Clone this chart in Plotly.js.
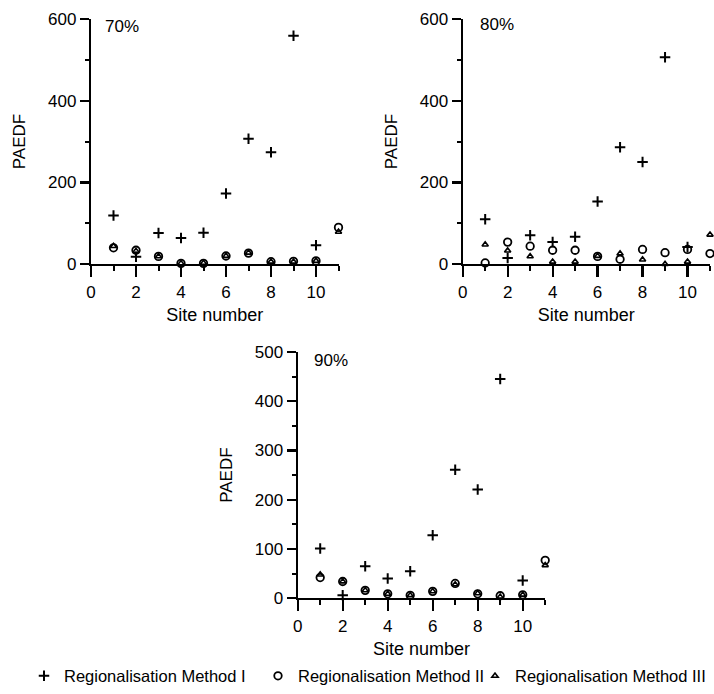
<!DOCTYPE html>
<html>
<head>
<meta charset="utf-8">
<script src="https://cdn.plot.ly/plotly-3.0.1.min.js"></script>
<style>
  html, body { margin: 0; padding: 0; background: #fff; }
  #chart { width: 714px; height: 694px; }
</style>
</head>
<body>
<div id="chart"></div>
<script>
// Site numbers
const sitesAll = [1, 2, 3, 4, 5, 6, 7, 8, 9, 10, 11];
const sitesM1 = [1, 2, 3, 4, 5, 6, 7, 8, 9, 10];

// Series names
const seriesNames = ["Regionalisation Method I", "Regionalisation Method II", "Regionalisation Method III"];

// 70% panel
const p70_m1 = [119, 18, 76, 64, 77, 173, 307, 274, 559, 46];
const p70_m2 = [40, 34, 19, 2, 2, 20, 27, 6, 7, 8, 90];
const p70_m3 = [44, 32, 19, 2, 3, 20, 28, 6, 6, 8, 79];

// 80% panel
const p80_m1 = [110, 15, 71, 54, 67, 153, 286, 250, 506, 42];
const p80_m2 = [3, 54, 44, 34, 34, 19, 12, 36, 28, 36, 26];
const p80_m3 = [48, 33, 19, 6, 6, 20, 26, 11, 0, 6, 72];

// 90% panel
const p90_m1 = [101, 6, 65, 40, 55, 128, 261, 221, 445, 36];
const p90_m2 = [42, 34, 16, 9, 6, 14, 30, 9, 5, 7, 77];
const p90_m3 = [48, 34, 16, 9, 6, 14, 28, 10, 3, 7, 67];

// Panel labels
const panelLabels = ["70%", "80%", "90%"];
const xTitle = "Site number";
const yTitle = "PAEDF";

const FONT = "Liberation Sans, Arial, Helvetica, sans-serif";
const INK = "#000";

const markerStyles = [
  {symbol: "cross-thin-open", size: 7.5, color: INK, line: {width: 2, color: INK}},
  {symbol: "circle-open", size: 7.5, color: INK, line: {width: 1.8, color: INK}},
  {symbol: "triangle-up-open", size: 5.5, color: INK, line: {width: 1.6, color: INK}}
];
const legendIds = ["legend", "legend2", "legend3"];

const panels = [
  {m1: p70_m1, m2: p70_m2, m3: p70_m3, xa: "x", ya: "y"},
  {m1: p80_m1, m2: p80_m2, m3: p80_m3, xa: "x2", ya: "y2"},
  {m1: p90_m1, m2: p90_m2, m3: p90_m3, xa: "x3", ya: "y3"}
];

const traces = [];
panels.forEach((p, i) => {
  const ys = [p.m1, p.m2, p.m3];
  const xs = [sitesM1, sitesAll, sitesAll];
  [2, 1, 0].forEach(k => {
    traces.push({
      type: "scatter", mode: "markers",
      x: xs[k], y: ys[k],
      xaxis: p.xa, yaxis: p.ya,
      name: seriesNames[k],
      legend: legendIds[k],
      showlegend: i === 0,
      cliponaxis: false,
      marker: markerStyles[k],
      hoverinfo: "x+y+name"
    });
  });
});

const W = 714, H = 694;
function xd(a, b) { return [a / W, b / W]; }
function yd(top, bottom) { return [1 - bottom / H, 1 - top / H]; }

function xAxis(domain, anchor) {
  return {
    domain: domain, anchor: anchor,
    range: [0, 11], dtick: 2, tick0: 0,
    showline: true, linewidth: 2.2, linecolor: INK,
    ticks: "outside", ticklen: 11, tickwidth: 2.2, tickcolor: INK,
    minor: {dtick: 1, tick0: 0, ticks: "outside", ticklen: 5, tickwidth: 2, tickcolor: INK, showgrid: false},
    showgrid: false, zeroline: false,
    tickfont: {family: FONT, size: 17, color: INK},
    title: {text: xTitle, font: {family: FONT, size: 18, color: INK}, standoff: 8},
    fixedrange: true
  };
}
function yAxis(domain, anchor, maxv, dt) {
  return {
    domain: domain, anchor: anchor,
    range: [0, maxv], dtick: dt, tick0: 0,
    showline: true, linewidth: 2.2, linecolor: INK,
    ticks: "outside", ticklen: 9, tickwidth: 2.2, tickcolor: INK,
    minor: {dtick: dt / 2, tick0: 0, ticks: "outside", ticklen: 4, tickwidth: 2, tickcolor: INK, showgrid: false},
    showgrid: false, zeroline: false,
    tickfont: {family: FONT, size: 17, color: INK},
    title: {text: yTitle, font: {family: FONT, size: 17, color: INK}, standoff: 18},
    fixedrange: true
  };
}
function legendAt(px) {
  return {
    orientation: "h",
    x: px / W, xanchor: "left",
    y: 1 - 680 / H, yanchor: "middle",
    font: {family: FONT, size: 16.5, color: INK},
    itemwidth: 30,
    bgcolor: "rgba(0,0,0,0)", borderwidth: 0
  };
}

const layout = {
  width: W, height: H,
  margin: {l: 0, r: 0, t: 0, b: 0},
  paper_bgcolor: "#fff", plot_bgcolor: "#fff",
  font: {family: FONT, color: INK},
  showlegend: true,
  legend: legendAt(24),
  legend2: legendAt(258),
  legend3: legendAt(475),
  xaxis: xAxis(xd(91, 338.5), "y"),
  yaxis: yAxis(yd(19, 265.7), "x", 600, 200),
  xaxis2: xAxis(xd(462.7, 710), "y2"),
  yaxis2: yAxis(yd(19, 265.7), "x2", 600, 200),
  xaxis3: xAxis(xd(297.7, 545.2), "y3"),
  yaxis3: yAxis(yd(354, 601.7), "x3", 500, 100),
  annotations: [
    {text: panelLabels[0], xref: "x domain", yref: "y domain", x: 0.048, y: 0.968, xanchor: "left", yanchor: "middle", showarrow: false, font: {family: FONT, size: 17, color: INK}},
    {text: panelLabels[1], xref: "x2 domain", yref: "y2 domain", x: 0.061, y: 0.976, xanchor: "left", yanchor: "middle", showarrow: false, font: {family: FONT, size: 17, color: INK}},
    {text: panelLabels[2], xref: "x3 domain", yref: "y3 domain", x: 0.057, y: 0.965, xanchor: "left", yanchor: "middle", showarrow: false, font: {family: FONT, size: 17, color: INK}}
  ]
};

Plotly.newPlot("chart", traces, layout, {displayModeBar: false, staticPlot: true});
</script>
</body>
</html>
